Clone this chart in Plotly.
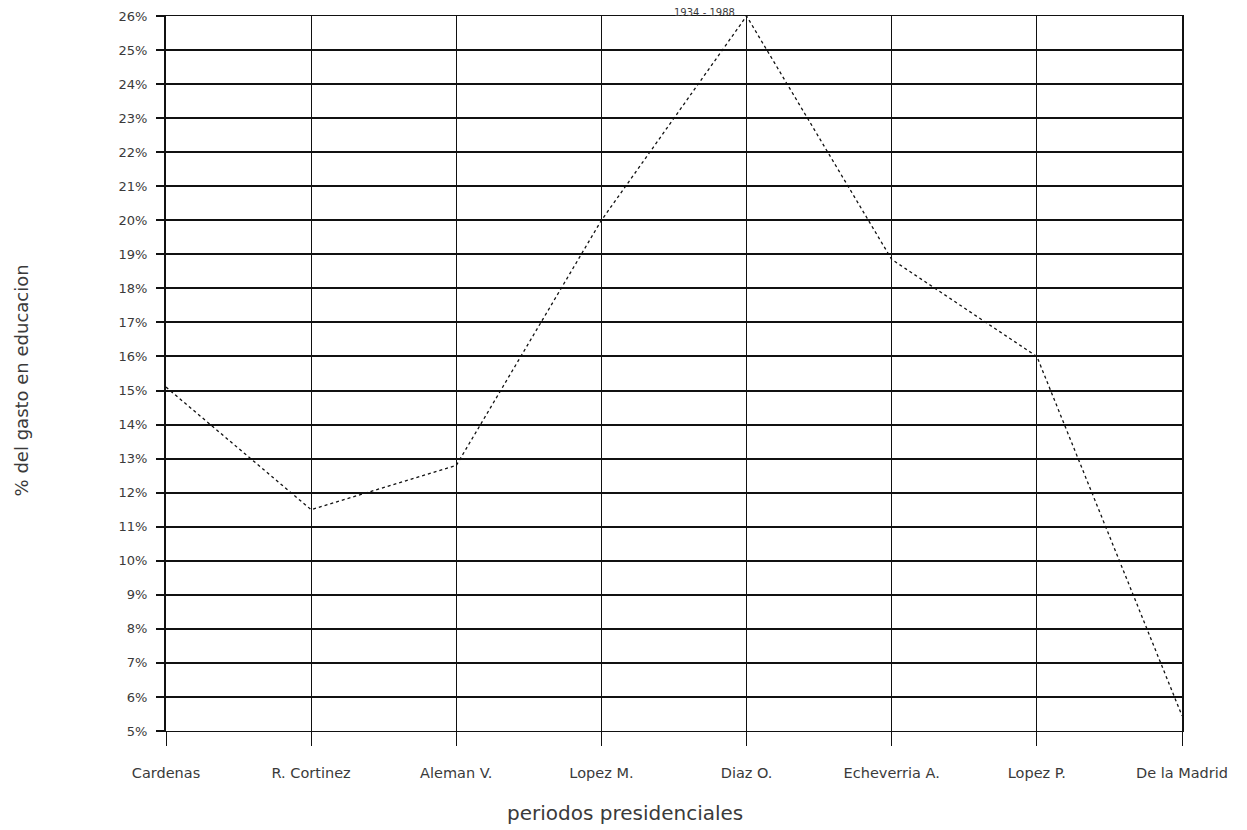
import plotly.graph_objects as go

presidentes = ["Cardenas", "R. Cortinez", "Aleman V.", "Lopez M.", "Diaz O.",
               "Echeverria A.", "Lopez P.", "De la Madrid"]
gasto_educacion = [15.1, 11.5, 12.8, 20.0, 26.0, 18.85, 16.0, 5.45]
y_ticks = list(range(5, 27))
y_tick_labels = [f"{v}%" for v in y_ticks]
titulo = "1934 - 1988"

fnt = "DejaVu Sans"
txt_color = "#3a3a3a"

fig = go.Figure()
fig.add_trace(go.Scatter(
    x=presidentes, y=gasto_educacion, mode="lines",
    line=dict(color="#111111", width=1.3, dash="dot"),
    showlegend=False, hoverinfo="x+y",
))

fig.update_layout(
    width=1239, height=822,
    margin=dict(l=158, r=65, t=8, b=99),
    paper_bgcolor="white", plot_bgcolor="white",
    font=dict(family=fnt, size=13, color=txt_color),
    xaxis=dict(
        type="category", range=[0, 7], automargin=False,
        showgrid=True, gridcolor="#111111", gridwidth=1.4,
        showline=True, linecolor="#111111", linewidth=1.4, mirror=True,
        ticks="outside", ticklen=14, tickwidth=1.4, tickcolor="#111111",
        ticklabelstandoff=14,
        tickfont=dict(family=fnt, size=14.5, color=txt_color),
        zeroline=False,
    ),
    yaxis=dict(
        range=[5, 26], tickvals=y_ticks, ticktext=y_tick_labels, automargin=False,
        showgrid=True, gridcolor="#111111", gridwidth=2,
        showline=True, linecolor="#111111", linewidth=2, mirror=True,
        ticks="outside", ticklen=8, tickwidth=2, tickcolor="#111111",
        ticklabelstandoff=6,
        tickfont=dict(family=fnt, size=13, color=txt_color),
        zeroline=False,
    ),
    annotations=[
        dict(text="periodos presidenciales", xref="paper", yref="paper",
             x=0.452, y=-0.115, xanchor="center", yanchor="middle",
             showarrow=False, font=dict(family=fnt, size=20, color=txt_color)),
        dict(text="% del gasto en educacion", xref="paper", yref="paper",
             x=-0.142, y=0.49, xanchor="center", yanchor="middle", textangle=-90,
             showarrow=False, font=dict(family=fnt, size=18, color=txt_color)),
        dict(text=titulo, xref="paper", yref="paper",
             x=0.53, y=1.0, xanchor="center", yanchor="bottom", yshift=-3,
             borderpad=0,
             showarrow=False, font=dict(family=fnt, size=10, color=txt_color)),
    ],
)

fig.write_html("out.html")
